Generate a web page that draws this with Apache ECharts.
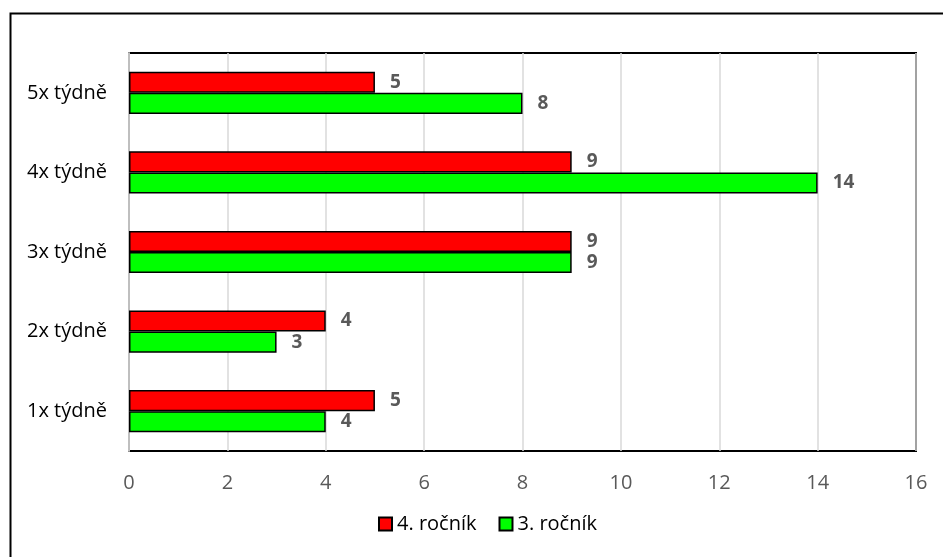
<!DOCTYPE html>
<html>
<head>
<meta charset="utf-8">
<script src="https://cdn.jsdelivr.net/npm/echarts@6/dist/echarts.min.js"></script>
<style>
  html, body { margin: 0; padding: 0; background: #fff; }
  #chart { width: 943px; height: 557px; }
</style>
</head>
<body>
<div id="chart"></div>
<script>
// data
const categories = ['1x týdně', '2x týdně', '3x týdně', '4x týdně', '5x týdně'];
const seriesNames = ['4. ročník', '3. ročník'];
const grade4 = [5, 4, 9, 9, 5];
const grade3 = [4, 3, 9, 14, 8];

const font = '"Open Sans", "Noto Sans", sans-serif';

const chart = echarts.init(document.getElementById('chart'));

const labelStyle = {
  show: true,
  position: 'right',
  distance: 15,
  color: '#595959',
  fontWeight: 'bold',
  fontSize: 19,
  fontFamily: font
};

chart.setOption({
  animation: false,
  graphic: [{
    type: 'rect',
    shape: { x: 10.5, y: 13.5, width: 960, height: 600 },
    style: { fill: 'none', stroke: '#000', lineWidth: 2 },
    silent: true
  }],
  grid: {
    left: 129, right: 27, top: 53, bottom: 106,
    show: true, borderColor: '#000', borderWidth: 2,
    containLabel: false
  },
  legend: {
    left: 373, top: 509,
    itemWidth: 13, itemHeight: 13, itemGap: 22,
    icon: 'rect',
    textStyle: { fontSize: 20, color: '#000', fontFamily: font },
    data: seriesNames
  },
  xAxis: {
    type: 'value', min: 0, max: 16, interval: 2,
    axisLine: { show: false },
    axisTick: { show: false },
    splitLine: { lineStyle: { color: '#d9d9d9', width: 1.5 } },
    axisLabel: { color: '#595959', fontSize: 20, fontFamily: font, margin: 22 }
  },
  yAxis: {
    type: 'category', data: categories,
    axisLine: { show: true, lineStyle: { color: '#bfbfbf', width: 2 } },
    axisTick: { show: false },
    axisLabel: { color: '#000', fontSize: 20, fontFamily: font, margin: 22 }
  },
  series: [
    {
      name: seriesNames[0], type: 'bar', data: grade4,
      barGap: '0%', barCategoryGap: '47%',
      itemStyle: { color: '#ff0000', borderColor: '#000', borderWidth: 1.5 },
      label: labelStyle
    },
    {
      name: seriesNames[1], type: 'bar', data: grade3,
      barGap: '0%', barCategoryGap: '47%',
      itemStyle: { color: '#00ff00', borderColor: '#000', borderWidth: 1.5 },
      label: labelStyle
    }
  ]
});
</script>
</body>
</html>
